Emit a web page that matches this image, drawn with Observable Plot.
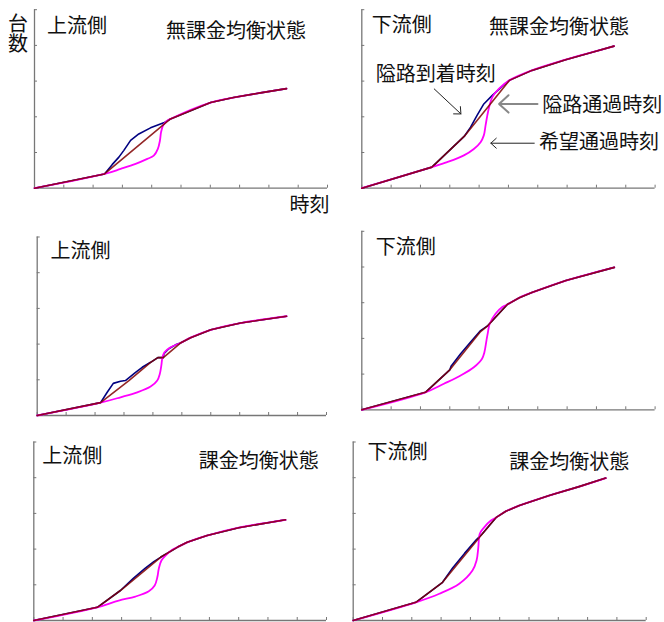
<!DOCTYPE html>
<html><head><meta charset="utf-8">
<script src="https://cdn.jsdelivr.net/npm/d3@7"></script>
<script src="https://cdn.jsdelivr.net/npm/@observablehq/plot@0.6"></script>
<style>
body{margin:0;background:#fff;}
#wrap{position:relative;width:664px;height:622px;overflow:hidden;background:#fff;}
#wrap svg{position:absolute;overflow:visible;}
</style></head><body><div id="wrap"></div>
<script>
// ---- tick positions (axis units, no labels in the original) ----
const xTicks = [0,1,2,3,4,5,6,7,8,9,10];
const yTicks = [0,1,2,3,4,5];

// ---- text ----
const sideTitles = ["上流側","下流側","上流側","下流側","上流側","下流側"];
const stateTitles = ["無課金均衡状態","無課金均衡状態","課金均衡状態","課金均衡状態"];
const curveNames = ["隘路到着時刻","隘路通過時刻","希望通過時刻"];
const yAxisTitle = "台数";
const xAxisTitle = "時刻";

// ---- cumulative curves [time, count] ----
// panel 1: upstream, no-toll equilibrium
const up1Arrive  = [[0,0],[2.39,0.40],[2.65,0.66],[2.88,0.87],[3.05,1.06],[3.28,1.34],[3.56,1.52],[3.96,1.69],[4.41,1.83],[4.64,1.94],[6.01,2.40],[6.79,2.54],[7.71,2.67],[8.60,2.79]];
const up1Pass    = [[0,0],[2.39,0.40],[4.64,1.94],[6.01,2.40],[6.79,2.54],[7.71,2.67],[8.60,2.79]];
const up1Desired = [[0,0],[2.39,0.40],[2.94,0.54],[3.45,0.68],[3.85,0.82],[4.07,0.91],[4.21,1.10],[4.28,1.33],[4.32,1.57],[4.39,1.76],[4.51,1.88],[4.64,1.94],[6.01,2.40],[6.79,2.54],[7.71,2.67],[8.60,2.79]];
// panel 2: downstream, no-toll equilibrium
const dn1Arrive  = [[0,0],[2.39,0.59],[3.49,1.45],[3.71,1.71],[3.93,2.04],[4.16,2.36],[4.45,2.60],[4.79,2.85],[5.03,3.02],[5.80,3.30],[6.95,3.60],[7.86,3.81],[8.60,3.98]];
const dn1Pass    = [[0,0],[2.39,0.59],[3.49,1.45],[5.03,3.02],[5.80,3.30],[6.95,3.60],[7.86,3.81],[8.60,3.98]];
const dn1Desired = [[0,0],[2.39,0.59],[2.91,0.73],[3.48,0.92],[3.82,1.10],[4.05,1.29],[4.16,1.48],[4.22,1.76],[4.28,2.04],[4.34,2.27],[4.45,2.55],[4.67,2.78],[5.03,3.02],[5.80,3.30],[6.95,3.60],[7.86,3.81],[8.60,3.98]];
// panel 3: upstream (middle row)
const up2Arrive  = [[0,0],[2.19,0.36],[2.42,0.65],[2.63,0.90],[2.88,0.96],[3.05,0.98],[3.22,1.09],[3.40,1.21],[3.63,1.35],[3.92,1.49],[4.17,1.62],[4.36,1.62],[4.38,1.73],[4.55,1.87],[4.78,1.98],[4.95,2.03],[5.30,2.18],[6.00,2.40],[7.03,2.59],[8.62,2.78]];
const up2Pass    = [[0,0],[2.19,0.36],[3.17,0.98],[3.92,1.49],[4.17,1.62],[4.36,1.62],[4.95,2.03],[5.30,2.18],[6.00,2.40],[7.03,2.59],[8.62,2.78]];
const up2Desired = [[0,0],[2.19,0.36],[2.88,0.51],[3.46,0.65],[3.92,0.81],[4.15,0.98],[4.24,1.17],[4.29,1.40],[4.33,1.63],[4.40,1.77],[4.61,1.91],[4.95,2.03],[5.30,2.18],[6.00,2.40],[7.03,2.59],[8.62,2.78]];
// panel 4: downstream (middle row)
const dn2Arrive  = [[0,0],[2.17,0.49],[3.00,1.12],[3.05,1.23],[3.37,1.57],[3.71,1.90],[4.05,2.22],[4.30,2.36],[4.96,2.95],[5.37,3.14],[5.82,3.29],[6.96,3.62],[8.61,3.99]];
const dn2Pass    = [[0,0],[2.17,0.49],[3.00,1.12],[4.05,2.19],[4.30,2.36],[4.96,2.95],[5.37,3.14],[5.82,3.29],[6.96,3.62],[8.61,3.99]];
const dn2Desired = [[0,0],[2.17,0.49],[2.80,0.73],[3.37,0.96],[3.82,1.19],[4.10,1.43],[4.18,1.61],[4.25,1.94],[4.30,2.17],[4.36,2.41],[4.56,2.69],[4.79,2.88],[4.96,2.95],[5.37,3.14],[5.82,3.29],[6.96,3.62],[8.61,3.99]];
// panel 5: upstream, toll equilibrium
const up3Arrive  = [[0,0],[2.17,0.37],[2.96,0.84],[3.40,1.18],[3.80,1.46],[4.10,1.65],[4.33,1.77],[4.90,2.05],[5.24,2.19],[5.92,2.38],[7.00,2.60],[8.60,2.82]];
const up3Pass    = [[0,0],[2.17,0.37],[2.96,0.84],[4.33,1.77],[4.90,2.05],[5.24,2.19],[5.92,2.38],[7.00,2.60],[8.60,2.82]];
const up3Desired = [[0,0],[2.17,0.37],[2.90,0.56],[3.47,0.67],[3.93,0.82],[4.13,0.98],[4.22,1.21],[4.27,1.45],[4.36,1.68],[4.50,1.82],[4.73,1.98],[4.90,2.05],[5.24,2.19],[5.92,2.38],[7.00,2.60],[8.60,2.82]];
// panel 6: downstream, toll equilibrium
const dn3Arrive  = [[0,0],[2.14,0.51],[3.05,1.07],[3.40,1.48],[3.80,1.88],[4.20,2.26],[4.41,2.43],[4.87,2.88],[5.21,3.06],[5.67,3.22],[6.69,3.50],[7.71,3.75],[8.62,3.99]];
const dn3Pass    = [[0,0],[2.14,0.51],[3.05,1.07],[4.41,2.43],[4.87,2.88],[5.21,3.06],[5.67,3.22],[6.69,3.50],[7.71,3.75],[8.62,3.99]];
const dn3Desired = [[0,0],[2.14,0.51],[2.94,0.75],[3.62,1.03],[4.07,1.40],[4.21,1.68],[4.27,2.05],[4.32,2.43],[4.47,2.61],[4.70,2.80],[4.87,2.88],[5.21,3.06],[5.67,3.22],[6.69,3.50],[7.71,3.75],[8.62,3.99]];

// ---- annotation arrows (axis units of panel 2) ----
const arrowFrom = [[2.47,2.78],[5.99,2.36],[5.88,1.26]];
const arrowTo   = [[3.38,2.08],[4.68,2.36],[4.40,1.26]];

const wrap = document.getElementById("wrap");
const FONT = "'Noto Sans CJK JP','Noto Sans CJK SC',sans-serif";

function label(s, dx, dy, opts = {}) {
  return Plot.text([s], {text: d => d, frameAnchor: "top-left", dx, dy,
    textAnchor: "start", lineAnchor: "middle", fontSize: 20, fill: "#111", ...opts});
}

function panel(cfg) {
  const {left, top, width, height, x0, y0, ux, uy, arrive, pass, desired, extra = []} = cfg;
  const innerW = 10 * ux, innerH = 5 * uy;
  const ml = x0 - left, mt = (y0 - innerH) - top;
  const mr = width - ml - innerW, mb = height - mt - innerH;
  const xy = {x: d => d[0], y: d => d[1]};
  const svg = Plot.plot({
    width, height, marginLeft: ml, marginTop: mt, marginRight: mr, marginBottom: mb,
    x: {domain: [0, 10]}, y: {domain: [0, 5]},
    style: {fontFamily: FONT, background: "transparent", overflow: "visible"},
    marks: [
      Plot.axisX(xTicks, {tickSize: -3, tickFormat: () => "", stroke: "#777", label: null}),
      Plot.axisY(yTicks, {tickSize: -3, tickFormat: () => "", stroke: "#777", label: null}),
      Plot.ruleY([0], {stroke: "#777", strokeWidth: 1.3}),
      Plot.ruleX([0], {stroke: "#777", strokeWidth: 1.3}),
      Plot.line(arrive, {...xy, stroke: "#000080", strokeWidth: 1.6}),
      Plot.line(desired, {...xy, stroke: "#ff00ff", strokeWidth: 1.8, curve: "catmull-rom"}),
      Plot.line(pass, {...xy, stroke: "#800000", strokeWidth: 1.6, strokeOpacity: 0.85}),
      ...extra
    ]
  });
  // vertical (upright) axis title, written top-to-bottom
  svg.querySelectorAll("text").forEach(t => {
    if (t.textContent === yAxisTitle) {
      t.style.writingMode = "vertical-rl";
      t.style.textOrientation = "upright";
      t.style.letterSpacing = "0px";
    }
  });
  svg.style.left = left + "px";
  svg.style.top = top + "px";
  wrap.appendChild(svg);
}

const arrowData = arrowFrom.map((a, i) => ({x1: a[0], y1: a[1], x2: arrowTo[i][0], y2: arrowTo[i][1], k: i}));

// top-left
panel({left: 0, top: 0, width: 332, height: 220, x0: 34, y0: 187.7, ux: 29.3, uy: 35.7,
  arrive: up1Arrive, pass: up1Pass, desired: up1Desired,
  extra: [
    label(sideTitles[0], 12.5, 17.3),
    label(stateTitles[0], 131.5, 21.6),
    label(yAxisTitle, -16.5, 17, {textAnchor: "middle"}),
    label(xAxisTitle, 275, 195.8, {textAnchor: "middle"})
  ]});
// top-right
panel({left: 332, top: 0, width: 332, height: 220, x0: 361.3, y0: 187.7, ux: 29.33, uy: 35.7,
  arrive: dn1Arrive, pass: dn1Pass, desired: dn1Desired,
  extra: [
    label(sideTitles[1], 10, 16.3),
    label(stateTitles[1], 127.2, 18.3),
    label(curveNames[0], 14, 64.8),
    label(curveNames[1], 180.5, 95.8),
    label(curveNames[2], 177.2, 133.3),
    Plot.arrow(arrowData.filter(d => d.k !== 1), {x1: "x1", y1: "y1", x2: "x2", y2: "y2", stroke: "#222", strokeWidth: 1, headLength: 11, headAngle: 85}),
    Plot.arrow(arrowData.filter(d => d.k === 1), {x1: "x1", y1: "y1", x2: "x2", y2: "y2", stroke: "#888", strokeWidth: 2, headLength: 11, headAngle: 85})
  ]});
// middle-left
panel({left: 0, top: 220, width: 332, height: 202, x0: 36.7, y0: 415, ux: 28.93, uy: 35.7,
  arrive: up2Arrive, pass: up2Pass, desired: up2Desired,
  extra: [label(sideTitles[2], 13.3, 14.3)]});
// middle-right
panel({left: 332, top: 220, width: 332, height: 202, x0: 361.3, y0: 409.3, ux: 29.33, uy: 35.7,
  arrive: dn2Arrive, pass: dn2Pass, desired: dn2Desired,
  extra: [label(sideTitles[3], 14, 16.7)]});
// bottom-left
panel({left: 0, top: 422, width: 332, height: 200, x0: 33.3, y0: 620, ux: 29.27, uy: 35.7,
  arrive: up3Arrive, pass: up3Pass, desired: up3Desired,
  extra: [label(sideTitles[4], 8.4, 14.3), label(stateTitles[2], 165, 19.3)]});
// bottom-right
panel({left: 332, top: 422, width: 332, height: 200, x0: 352.7, y0: 620, ux: 29.3, uy: 35.7,
  arrive: dn3Arrive, pass: dn3Pass, desired: dn3Desired,
  extra: [label(sideTitles[5], 14.3, 10.2), label(stateTitles[3], 156, 21)]});
</script>
</body></html>
